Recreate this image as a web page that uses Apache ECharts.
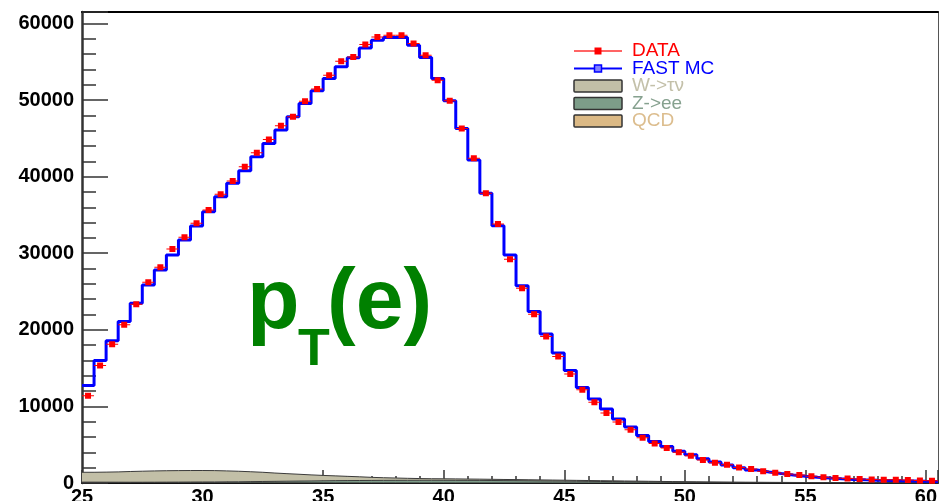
<!DOCTYPE html>
<html>
<head>
<meta charset="utf-8">
<script src="https://cdn.jsdelivr.net/npm/echarts@6/dist/echarts.min.js"></script>
<style>
html,body{margin:0;padding:0;background:#fff;}
#chart{width:939px;height:501px;}
</style>
</head>
<body>
<div id="chart"></div>
<script>
// ---- data (0.5 GeV bins starting at 25 GeV) ----
const BIN_START = 25;
const BIN_WIDTH = 0.5;

const fastMC = [
  12730,15990,18560,21080,23480,25860,27820,29780,31730,33560,
  35420,37380,39130,40770,42600,44340,46080,47820,49560,51210,
  52820,54340,55510,56810,57820,58170,58170,57170,55560,52820,
  49900,46300,42170,37820,33600,29780,25770,22380,19470,16960,
  14690,12470,10960,9650,8350,7300,6210,5430,4770,4150,
  3690,3170,2740,2350,2000,1700,1450,1230,1040,880,
  750,640,550,470,410,360,320,280,250,220,200
];

const dataPts = [
  11390,15340,18130,20650,23350,26210,28170,30560,32080,33910,
  35640,37690,39430,41290,43120,44860,46640,47820,49860,51430,
  53250,55080,55640,57250,58250,58470,58470,57390,55860,52600,
  49900,46300,42390,37820,33820,29220,25430,22040,19120,16510,
  14220,12170,10560,9130,7960,6950,5900,5170,4560,4020,
  3560,3000,2640,2390,2040,1830,1540,1330,1180,1040,
  880,760,660,600,520,470,430,420,380,340,310
];

const wTauNu = [
  1300,1320,1350,1400,1440,1470,1490,1500,1505,1500,
  1480,1430,1370,1290,1200,1085,985,890,790,700,
  625,555,485,405,345,305,260,225,205,195,
  190,175,165,155,145,140,135,130,125,120,
  115,110,105,100,95,90,85,80,75,70,
  65,60,56,52,48,44,40,37,34,31,
  28,25,23,21,19,17,15,13,12,11,10
];

const zee = [
  20,25,30,35,40,50,60,70,80,90,
  100,115,130,150,170,190,210,230,250,270,
  290,300,310,320,330,335,340,345,345,345,
  340,335,330,320,310,300,285,270,255,240,
  225,210,195,180,165,150,135,120,110,100,
  90,80,72,65,58,52,46,41,36,32,
  28,25,22,19,17,15,13,11,10,9,8
];

const qcd = [
  80,75,70,65,60,56,52,48,45,42,
  39,36,33,30,28,26,24,22,20,18,
  17,16,15,14,13,12,11,10,9,9,
  8,8,7,7,6,6,5,5,5,4,
  4,4,4,3,3,3,3,3,2,2,
  2,2,2,2,2,1,1,1,1,1,
  1,1,1,1,1,1,1,1,1,1,1
];

const legendNames = ['DATA', 'FAST MC', 'W->\u03c4\u03bd', 'Z->ee', 'QCD'];

// ---- helpers ----
function stepData(vals) {
  const out = vals.map((v, i) => [BIN_START + i * BIN_WIDTH, v]);
  out.push([BIN_START + vals.length * BIN_WIDTH, vals[vals.length - 1]]);
  return out;
}
// value first, x second (so the stack is applied to the value dimension)
function stepDataVX(vals) {
  const out = vals.map((v, i) => [v, BIN_START + i * BIN_WIDTH]);
  out.push([vals[vals.length - 1], BIN_START + vals.length * BIN_WIDTH]);
  return out;
}
function centerData(vals) {
  return vals.map((v, i) => [BIN_START + (i + 0.5) * BIN_WIDTH, v]);
}

const chart = echarts.init(document.getElementById('chart'), null, {renderer: 'canvas'});

const FONT = 'Liberation Sans, Arial, Helvetica, sans-serif';
const bgSeries = (name, vals, fill) => ({
  name: name,
  type: 'line',
  step: 'end',
  stack: 'bg',
  data: stepDataVX(vals),
  encode: {x: 1, y: 0},
  showSymbol: false,
  symbol: 'none',
  lineStyle: {color: '#3a3a3a', width: 1},
  areaStyle: {color: fill, opacity: 1},
  itemStyle: {color: fill},
  z: 1,
  silent: true
});

const LX = 574, LW = 48, TX = 632;
const rows = [51, 68.5, 86, 103.5, 121];
const textColors = ['#ff0000', '#0000ff', '#c3c0a9', '#86a18f', '#dcbd8e'];
const boxFills = ['#c2bfa7', '#7d9d89', '#dbb985'];

const graphics = [];
// legend icons
graphics.push({type: 'line', shape: {x1: LX, y1: rows[0], x2: LX + LW, y2: rows[0]}, style: {stroke: '#ff3030', lineWidth: 1.5}, z: 10});
graphics.push({type: 'rect', shape: {x: LX + LW / 2 - 3.5, y: rows[0] - 3.5, width: 7, height: 7}, style: {fill: '#ff0000'}, z: 10});
graphics.push({type: 'line', shape: {x1: LX, y1: rows[1], x2: LX + LW, y2: rows[1]}, style: {stroke: '#0000ff', lineWidth: 2}, z: 10});
graphics.push({type: 'rect', shape: {x: LX + LW / 2 - 3.5, y: rows[1] - 3.5, width: 7, height: 7}, style: {fill: '#8080ff', stroke: '#0000ff', lineWidth: 1.5}, z: 10});
for (let i = 0; i < 3; i++) {
  graphics.push({type: 'rect', shape: {x: LX, y: rows[i + 2] - 6, width: LW, height: 12, r: 1}, style: {fill: boxFills[i], stroke: '#333', lineWidth: 1.5}, z: 10});
}
for (let i = 0; i < 5; i++) {
  graphics.push({type: 'text', x: TX, y: rows[i], style: {text: legendNames[i], fill: textColors[i], font: '19px ' + FONT, verticalAlign: 'middle', align: 'left'}, z: 10});
}
// p_T(e) label
graphics.push({type: 'text', x: 247, y: 304, style: {text: 'p', fill: '#008000', font: 'bold 86px ' + FONT, verticalAlign: 'middle', align: 'left'}, z: 10});
graphics.push({type: 'text', x: 298, y: 351, style: {text: 'T', fill: '#008000', font: 'bold 52px ' + FONT, verticalAlign: 'middle', align: 'left'}, z: 10});
graphics.push({type: 'text', x: 327, y: 304, style: {text: '(e)', fill: '#008000', font: 'bold 86px ' + FONT, verticalAlign: 'middle', align: 'left'}, z: 10});

const option = {
  animation: false,
  backgroundColor: '#ffffff',
  grid: {left: 82, top: 12, width: 856, height: 471, containLabel: false, outerBoundsMode: 'none'},
  xAxis: [{
    type: 'value',
    min: 25, max: 60.5, interval: 5,
    axisLine: {show: true, onZero: false, lineStyle: {color: '#111', width: 2}},
    axisTick: {show: true, inside: true, length: 13, lineStyle: {color: '#333', width: 1.5}},
    minorTick: {show: true, splitNumber: 5, length: 7, lineStyle: {color: '#333', width: 1.5}},
    splitLine: {show: false},
    axisLabel: {show: true, margin: 4, color: '#000', fontSize: 20, fontWeight: 'bold', fontFamily: FONT,
      formatter: v => (v % 5 === 0 ? String(v) : '')}
  }, {
    type: 'value', position: 'top',
    min: 25, max: 60.5, interval: 5,
    axisLine: {show: true, onZero: false, lineStyle: {color: '#000', width: 2}},
    axisTick: {show: false}, axisLabel: {show: false}, splitLine: {show: false}
  }],
  yAxis: [{
    type: 'value',
    min: 0, max: 61500, interval: 10000,
    axisLine: {show: true, onZero: false, lineStyle: {color: '#333', width: 2.5}},
    axisTick: {show: true, inside: true, length: 26, lineStyle: {color: '#333', width: 1.5}},
    minorTick: {show: true, splitNumber: 5, length: 14, lineStyle: {color: '#333', width: 1.5}},
    splitLine: {show: false},
    axisLabel: {show: true, margin: 8, color: '#000', fontSize: 20, fontWeight: 'bold', fontFamily: FONT,
      verticalAlignMinLabel: 'middle', verticalAlignMaxLabel: 'middle',
      formatter: v => (v % 10000 === 0 ? String(v) : '')}
  }, {
    type: 'value', position: 'right',
    min: 0, max: 61500, interval: 10000,
    axisLine: {show: true, onZero: false, lineStyle: {color: '#555', width: 1}},
    axisTick: {show: false}, axisLabel: {show: false}, splitLine: {show: false}
  }],
  graphic: graphics,
  series: [
    bgSeries('QCD', qcd, '#dbb985'),
    bgSeries('Z->ee', zee, '#7d9d89'),
    bgSeries('W->\u03c4\u03bd', wTauNu, '#c2bfa7'),
    {
      name: 'FAST MC',
      type: 'line',
      step: 'end',
      data: stepData(fastMC),
      showSymbol: false,
      symbol: 'none',
      lineStyle: {color: '#0000ff', width: 3},
      itemStyle: {color: '#0000ff'},
      z: 3
    },
    {
      name: 'DATA',
      type: 'scatter',
      data: centerData(dataPts),
      symbol: 'path://M0,2.5h3v-2.5h6v2.5h3v1h-3v2.5h-6v-2.5h-3z',
      symbolSize: [12, 6],
      itemStyle: {color: '#ff0000', opacity: 1},
      z: 4
    }
  ]
};
chart.setOption(option);
</script>
</body>
</html>
